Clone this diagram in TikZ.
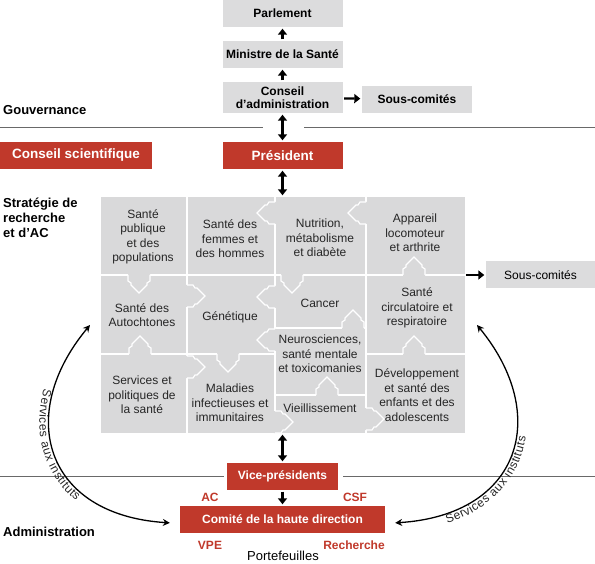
\documentclass[tikz,border=0pt]{standalone}
\usepackage{fontspec}
\setmainfont{Liberation Sans}
\usetikzlibrary{arrows.meta,decorations.text}
\definecolor{cellgris}{RGB}{217,217,218}
\definecolor{boitegris}{RGB}{220,220,221}
\definecolor{irscrouge}{RGB}{192,57,43}
\definecolor{traitgris}{RGB}{105,105,105}
\definecolor{textegris}{RGB}{38,38,38}
\tikzset{
	boite/.style={fill=boitegris, minimum width=120pt, minimum height=27pt, inner sep=0pt, align=center, font=\bfseries\fontsize{12}{13.5}\selectfont},
	rouge/.style={fill=irscrouge, text=white, minimum height=27pt, inner sep=0pt, font=\bfseries\fontsize{12}{14}\selectfont},
	rougetexte/.style={text=irscrouge, inner sep=0pt, font=\bfseries\fontsize{12}{14}\selectfont},
	cellule/.style={align=center, text=textegris, inner sep=0pt, font=\fontsize{12}{14.5}\selectfont},
	section/.style={anchor=west, align=left, inner sep=0pt, font=\bfseries\fontsize{13}{15}\selectfont},
	fleche/.style={line width=2.3pt, -{Triangle[width=9pt,length=6pt]}, shorten >=1.5pt, shorten <=1.5pt},
	dfleche/.style={fleche, {Triangle[width=9pt,length=6pt]}-{Triangle[width=9pt,length=6pt]}},
	courbe/.style={line width=1.3pt, {Stealth[width=7pt,length=7pt]}-{Stealth[width=7pt,length=7pt]}},
	separation/.style={draw=traitgris, line width=0.9pt},
	onglet/.pic={
		\fill[cellgris] (-1.2,-11) -- (6,-11) -- (8,-8) -- (10,-8) -- (18,0) -- (10,8) -- (8,8) -- (6,11) -- (-1.2,11) -- cycle;
		\draw[white, line width=1.2pt] (0,-11) -- (6,-11) -- (8,-8) -- (10,-8) -- (18,0) -- (10,8) -- (8,8) -- (6,11) -- (0,11);
	}
}
\begin{document}
\begin{tikzpicture}[x=1pt,y=-1pt]
	\useasboundingbox (0,0) rectangle (595,564);
	\node[boite] (parl) at (282.5,13.5) {Parlement};
	\node[boite] (min) at (282.5,54.5) {Ministre de la Santé};
	\node[boite, minimum height=31pt] (ca) at (282.5,97.5) {Conseil\\d’administration};
	\node[boite, minimum width=110pt] (sc1) at (417,99.5) {Sous-comités};
	\node[section] (gouv) at (3,110) {Gouvernance};
	\draw[separation] (0,127) -- (263,127) (304,127) -- (595,127);
	\node[rouge, minimum width=152pt, font=\bfseries\fontsize{13.5}{15}\selectfont] (cs) at (76,155.5) {Conseil scientifique};
	\node[rouge, minimum width=120pt, font=\bfseries\fontsize{13.5}{15}\selectfont] (pres) at (282.5,155.5) {Président};
	\node[section] (strat) at (3,218) {Stratégie de\\recherche\\et d’AC};
	\node[fill=cellgris, minimum width=364pt, minimum height=236pt, inner sep=0pt] (grille) at (282.5,315) {};
	\draw[white, line width=1.6pt] (187,197) -- (187,433) (275,197) -- (275,433) (366,197) -- (366,433)
		(100.5,275) -- (464.5,275) (100.5,354) -- (275,354) (366,354) -- (464.5,354)
		(275,328) -- (366,328) (275,395) -- (366,395);
	\pic[rotate=-90] at (139,275) {onglet};
	\pic[rotate=90] at (140,354) {onglet};
	\pic at (187,296) {onglet};
	\pic at (187,367) {onglet};
	\pic[rotate=180] at (275,213) {onglet};
	\pic[rotate=180] at (275,297) {onglet};
	\pic[rotate=180] at (275,340) {onglet};
	\pic at (275,422) {onglet};
	\pic[rotate=180] at (366,213) {onglet};
	\pic at (366,419) {onglet};
	\pic[rotate=-90] at (292,275) {onglet};
	\pic[rotate=90] at (414,275) {onglet};
	\pic[rotate=-90] at (228,354) {onglet};
	\pic[rotate=90] at (414,354) {onglet};
	\pic[rotate=90] at (353,328) {onglet};
	\pic[rotate=90] at (327,395) {onglet};
	\node[cellule] (sp) at (143,237) {Santé\\publique\\et des\\populations};
	\node[cellule] (sfh) at (230,239) {Santé des\\femmes et\\des hommes};
	\node[cellule] (nut) at (320,238) {Nutrition,\\métabolisme\\et diabète};
	\node[cellule] (app) at (415,233) {Appareil\\locomoteur\\et arthrite};
	\node[cellule] (aut) at (142,315) {Santé des\\Autochtones};
	\node[cellule] (gen) at (230,317) {Génétique};
	\node[cellule] (can) at (320,303) {Cancer};
	\node[cellule] (circ) at (417,308) {Santé\\circulatoire et\\respiratoire};
	\node[cellule] (neu) at (320,354) {Neurosciences,\\santé mentale\\et toxicomanies};
	\node[cellule] (serv) at (142,395) {Services et\\politiques de\\la santé};
	\node[cellule] (mal) at (230,403) {Maladies\\infectieuses et\\immunitaires};
	\node[cellule] (vie) at (320,408) {Vieillissement};
	\node[cellule] (dev) at (417,395) {Développement\\et santé des\\enfants et des\\adolescents};
	\node[boite, minimum width=109pt, font=\fontsize{12}{14}\selectfont] (sc2) at (540.5,275) {Sous-comités};
	\draw[separation] (0,476) -- (224,476) (343,476) -- (595,476);
	\node[rouge, minimum width=111pt] (vp) at (282.5,476.5) {Vice-présidents};
	\node[rouge, minimum width=205pt] (comite) at (282.5,519.5) {Comité de la haute direction};
	\node[rougetexte] (ac) at (210,497) {AC};
	\node[rougetexte] (csf) at (355,497) {CSF};
	\node[rougetexte] (vpe) at (210,545) {VPE};
	\node[rougetexte] (rech) at (354,545) {Recherche};
	\node[inner sep=0pt, font=\fontsize{13}{15}\selectfont] (port) at (283,556) {Portefeuilles};
	\node[section] (admin) at (3,532) {Administration};
	\draw[fleche] (min) -- (parl);
	\draw[fleche] (ca) -- (min);
	\draw[fleche] (ca) -- (sc1);
	\draw[dfleche] (ca) -- (pres);
	\draw[dfleche] (pres) -- (grille);
	\draw[fleche] (grille.east |- sc2) -- (sc2);
	\draw[dfleche] (grille) -- (vp);
	\draw[fleche] (vp) -- (comite);
	\coordinate (gA) at (90,325);
	\coordinate (gB) at (477,325);
	\draw[courbe, shorten >=10pt] (gA) .. controls (15,415) and (45,515) .. ([yshift=-4pt]comite.west);
	\draw[courbe, shorten <=10pt] ([yshift=-4pt]comite.east) .. controls (521,515) and (551,415) .. (gB);
	\path[decorate, decoration={text along path, raise=-10pt, text color=textegris, text align={left indent=76pt},
		text={|\fontsize{12}{14}\selectfont|Services aux instituts}}] (gA) .. controls (15,415) and (45,515) .. (170,523.5);
	\path[decorate, decoration={text along path, raise=-10pt, text color=textegris, text align={left indent=50pt},
		text={|\fontsize{12}{14}\selectfont|Services aux instituts}}] (395,523.5) .. controls (521,515) and (551,415) .. (gB);
\end{tikzpicture}
\end{document}
